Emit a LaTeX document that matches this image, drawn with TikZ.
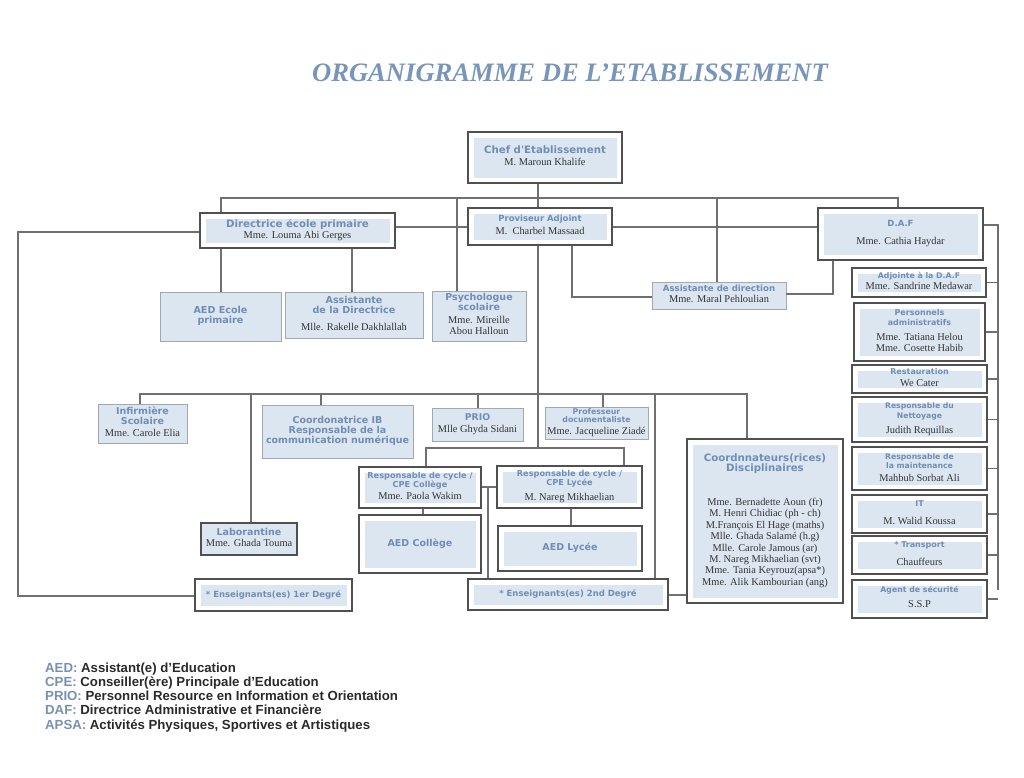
\documentclass[tikz,border=0pt]{standalone}
\usepackage{fontspec}
\setmainfont{Liberation Serif}
\newfontfamily\labfont{DejaVu Sans}
\newfontfamily\legfont{Liberation Sans}
\newfontfamily\namefont{Liberation Serif}
\definecolor{boxfill}{HTML}{DCE6F1}
\definecolor{labblue}{HTML}{6F8DB6}
\definecolor{titleblue}{HTML}{7895BA}
\definecolor{legblue}{HTML}{7891B3}
\definecolor{legtxt}{HTML}{2A2A2A}
\definecolor{nametxt}{HTML}{333333}
\definecolor{linegray}{HTML}{707070}
\definecolor{framegray}{HTML}{505050}
\definecolor{plaingray}{HTML}{A0A8B0}
\newcommand\lbs[3]{{\labfont\bfseries\fontsize{#1}{#2}\selectfont\color{labblue}\begin{tabular}[b]{@{}c@{}}#3\end{tabular}}}
\newcommand\lb[2]{\lbs{#1}{#1}{#2}}
\newcommand\nm[1]{{\namefont\fontsize{10.4}{11.4}\selectfont\color{nametxt}\begin{tabular}[t]{@{}c@{}}#1\end{tabular}}}
\newcommand\bx[7]{\node[#6, minimum width={(#4-#2)*1pt}, minimum height={(#5-#3)*1pt}] (#1) at ({(#2+#4)/2},{(#3+#5)/2}) {#7};}
\tikzset{
  boxbase/.style={inner sep=0pt, align=center, font=\fontsize{10}{11.5}\selectfont},
  frm/.style={boxbase, draw=framegray, line width=1.3pt, fill=white,
    path picture={\fill[boxfill] ([shift={(5.5pt,-5.5pt)}]path picture bounding box.north west) rectangle ([shift={(-5.5pt,5.5pt)}]path picture bounding box.south east);}},
  pln/.style={boxbase, draw=plaingray, line width=0.9pt, fill=boxfill},
  dkb/.style={boxbase, draw=framegray, line width=1.3pt, fill=boxfill},
  ln/.style={draw=linegray, line width=1.3pt},
  leg/.style={anchor=base west, inner sep=0pt, font=\legfont\bfseries\fontsize{13.2}{14}\selectfont, text=legtxt},
}
\begin{document}
\begin{tikzpicture}[x=1pt,y=-1pt]
\fill[white] (0,0) rectangle (1024,777);
\useasboundingbox (0,0) rectangle (1024,777);

\node[font=\namefont\bfseries\itshape\fontsize{26.6}{30}\selectfont, text=titleblue, inner sep=0pt] (title) at (570,73) {ORGANIGRAMME DE L’ETABLISSEMENT};

% top level
\bx{chef}{468}{132}{622}{183}{frm}{\lb{10.2}{Chef d'Etablissement}\\ \nm{M. Maroun Khalife}}
\bx{dir}{200}{213}{395}{248}{frm}{\lb{10.2}{Directrice école primaire}\\ \nm{Mme. Louma Abi Gerges}}
\bx{prov}{468}{208}{612}{245}{frm}{\lb{8.5}{Proviseur Adjoint}\\[1pt] \nm{M.~~Charbel Massaad}}
\bx{daf}{818}{208}{983}{260}{frm}{\lb{8.5}{D.A.F}\\[7pt] \nm{Mme. Cathia Haydar}}

% second level
\bx{aede}{160}{292}{281}{341}{pln}{\lb{9.6}{AED Ecole\\primaire}}
\bx{asdire}{285}{292}{423}{338}{pln}{\lb{9.6}{Assistante\\de la Directrice}\\[5pt] \nm{Mlle. Rakelle Dakhlallah}}
\bx{psy}{432}{291}{526}{341}{pln}{\lb{9.5}{Psychologue\\scolaire}\\[1pt] \nm{Mme. Mireille\\Abou Halloun}}
\bx{asdir}{652}{282}{786}{309}{pln}{\lb{8.6}{Assistante de direction}\\ \nm{Mme. Maral Pehloulian}}

% right column
\bx{adj}{852}{268}{986}{297}{frm}{\lb{7.8}{Adjointe à la D.A.F}\\ \nm{Mme. Sandrine Medawar}}
\bx{pers}{854}{303}{985}{361}{frm}{\lbs{8}{9.8}{Personnels\\administratifs}\\[3pt] \nm{Mme. Tatiana Helou\\Mme. Cosette Habib}}
\bx{resto}{852}{365}{987}{393}{frm}{\lb{8}{Restauration}\\ \nm{We Cater}}
\bx{nett}{852}{397}{987}{442}{frm}{\lbs{7.7}{9.8}{Responsable du\\Nettoyage}\\[4pt] \nm{Judith Requillas}}
\bx{maint}{852}{447}{987}{490}{frm}{\lbs{7.7}{9.8}{Responsable de\\la maintenance}\\[1pt] \nm{Mahbub Sorbat Ali}}
\bx{it}{852}{495}{987}{533}{frm}{\lb{8}{IT}\\[6.5pt] \nm{M. Walid Koussa}}
\bx{trans}{852}{536}{987}{574}{frm}{\lb{8}{* Transport}\\[6.5pt] \nm{Chauffeurs}}
\bx{agent}{852}{580}{987}{618}{frm}{\lb{7.8}{Agent de sécurité}\\[3.5pt] \nm{S.S.P}}

% third level
\bx{infir}{98}{404}{187}{443}{pln}{\lb{9.5}{Infirmière\\Scolaire}\\ \nm{Mme. Carole Elia}}
\bx{coordib}{262}{405}{413}{458}{pln}{\lb{9.5}{Coordonatrice IB\\Responsable de la\\communication numérique}}
\bx{prio}{432}{408}{523}{441}{pln}{\lb{9.3}{PRIO}\\ \nm{Mlle Ghyda Sidani}}
\bx{prof}{545}{407}{648}{439}{pln}{\lb{7.8}{Professeur\\documentaliste}\\ \nm{Mme. Jacqueline Ziadé}}
\bx{coord}{687}{439}{843}{603}{frm}{\lbs{10.2}{10}{Coordnnateurs(rices)\\Disciplinaires}\\[22pt] \nm{Mme. Bernadette Aoun (fr)\\M. Henri Chidiac (ph - ch)\\M.François El Hage (maths)\\Mlle. Ghada Salamé (h.g)\\Mlle. Carole Jamous (ar)\\M. Nareg Mikhaelian (svt)\\Mme. Tania Keyrouz(apsa*)\\Mme. Alik Kambourian (ang)}}
\bx{cyc1}{359}{467}{481}{508}{frm}{\lb{8.2}{Responsable de cycle /\\CPE Collège}\\ \nm{Mme. Paola Wakim}}
\bx{cyc2}{497}{466}{642}{508}{frm}{\lb{8.2}{Responsable de cycle /\\CPE Lycée}\\[3pt] \nm{M. Nareg Mikhaelian}}
\bx{aedc}{359}{515}{481}{573}{frm}{\lb{9.5}{AED Collège}}
\bx{aedl}{498}{526}{642}{571}{frm}{\lb{9.5}{AED Lycée}}
\bx{labo}{201}{523}{297}{555}{dkb}{\lb{9.5}{Laborantine}\\ \nm{Mme. Ghada Touma}}
\bx{ens1}{195}{579}{352}{611}{frm}{\lb{8.5}{* Enseignants(es) 1er Degré}}
\bx{ens2}{468}{579}{668}{610}{frm}{\lb{8.5}{* Enseignants(es) 2nd Degré}}

% connectors: top
\draw[ln] (chef.south -| 538,0) -- (538,198);
\draw[ln] (dir.north -| 221,0) -- (221,198) -- (898,198) -- (daf.north -| 898,0);
\draw[ln] (457,198) -- (psy.north -| 457,0);
\draw[ln] (538,198) -- (prov.north -| 538,0);
\draw[ln] (717,198) -- (asdir.north -| 717,0);
\draw[ln] (dir.east |- 0,227) -- (prov.west |- 0,227);
\draw[ln] (prov.east |- 0,227) -- (daf.west |- 0,227);
\draw[ln] (dir.west |- 0,232) -- (18,232) -- (18,596) -- (ens1.west |- 0,596);
\draw[ln] (dir.south -| 221,0) -- (aede.north -| 221,0);
\draw[ln] (dir.south -| 352,0) -- (asdire.north -| 352,0);
\draw[ln] (prov.south -| 572,0) |- (asdir.west |- 0,297);
\draw[ln] (asdir.east |- 0,294) -| (daf.south -| 833,0);
% right column
\coordinate (rbus) at (998,590);
\draw[ln] (daf.east |- 0,225) -| (rbus);
\foreach \r in {adj,pers,resto,nett,maint,it,trans,agent}{
  \draw[ln] (\r.east) -- (\r.east -| rbus);
}
% middle
\draw[ln] (prov.south -| 538,0) -- (538,448);
\draw[ln] (infir.north -| 140,0) -- (140,394) -- (747,394) -- (coord.north -| 747,0);
\draw[ln] (251,394) -- (labo.north -| 251,0);
\draw[ln] (321,394) -- (coordib.north -| 321,0);
\draw[ln] (478,394) -- (prio.north -| 478,0);
\draw[ln] (603,394) -- (prof.north -| 603,0);
\draw[ln] (655,394) -- (ens2.north -| 655,0);
\draw[ln] (cyc1.north -| 426,0) -- (426,448) -- (624,448) -- (cyc2.north -| 624,0);
\draw[ln] (cyc1.east |- 0,487) -- (cyc2.west |- 0,487);
\draw[ln] (488,487) -- (ens2.north -| 488,0);
\draw[ln] (cyc1.south -| 423,0) -- (aedc.north -| 423,0);
\draw[ln] (cyc2.south -| 571,0) -- (aedl.north -| 571,0);
\draw[ln] (ens2.east |- 0,595) -- (coord.west |- 0,595);

% legend
\node[leg] (lg1) at (45,672) {\textcolor{legblue}{AED:} Assistant(e) d’Education};
\node[leg] (lg2) at (45,686.3) {\textcolor{legblue}{CPE:} Conseiller(ère) Principale d’Education};
\node[leg] (lg3) at (45,700.6) {\textcolor{legblue}{PRIO:} Personnel Resource en Information et Orientation};
\node[leg] (lg4) at (45,714.9) {\textcolor{legblue}{DAF:} Directrice Administrative et Financière};
\node[leg] (lg5) at (45,729.2) {\textcolor{legblue}{APSA:} Activités Physiques, Sportives et Artistiques};
\end{tikzpicture}
\end{document}
